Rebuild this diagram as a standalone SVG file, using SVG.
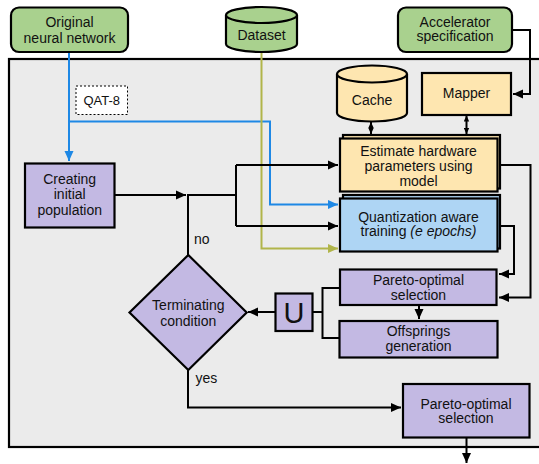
<svg xmlns="http://www.w3.org/2000/svg" width="539" height="464" viewBox="0 0 539 464">
<defs>
<marker id="ak" markerUnits="userSpaceOnUse" markerWidth="10" markerHeight="10" viewBox="0 0 10 10" refX="10" refY="5" orient="auto-start-reverse"><path d="M0,0.5 L10,5 L0,9.5 Z" fill="#000"/></marker>
<marker id="as" markerUnits="userSpaceOnUse" markerWidth="6" markerHeight="6" viewBox="0 0 10 10" refX="10" refY="5" orient="auto-start-reverse"><path d="M0,0.5 L10,5 L0,9.5 Z" fill="#000"/></marker>
<marker id="ab" markerUnits="userSpaceOnUse" markerWidth="10" markerHeight="10" viewBox="0 0 10 10" refX="10" refY="5" orient="auto"><path d="M0,0.5 L10,5 L0,9.5 Z" fill="#1e88e5"/></marker>
<marker id="ao" markerUnits="userSpaceOnUse" markerWidth="10" markerHeight="10" viewBox="0 0 10 10" refX="10" refY="5" orient="auto"><path d="M0,0.5 L10,5 L0,9.5 Z" fill="#b1b54a"/></marker>
</defs>
<style>
text{font-family:"Liberation Sans",Arial,sans-serif;font-size:14px;fill:#111;text-anchor:middle}
.b{stroke:#000;stroke-width:2.2}
.g{fill:#a9d18e}
.y{fill:#fee6b0}
.q{fill:#aed5f4}
.p{fill:#c3b9e3}
.c{fill:none;stroke:#000;stroke-width:2}
.cb{fill:none;stroke:#1e88e5;stroke-width:2}
.co{fill:none;stroke:#b1b54a;stroke-width:2}
</style>
<rect x="9" y="59" width="560" height="388" fill="#ebebeb" stroke="#000" stroke-width="2.2"/>
<g id="connectors">
<path class="cb" d="M69,52 V161" marker-end="url(#ab)"/>
<path class="cb" d="M69,121.5 H270 V204.5 H338" marker-end="url(#ab)"/>
<path class="co" d="M261.5,52 V248.5 H338" marker-end="url(#ao)"/>
<path class="c" d="M512,30 H530 V94 H513" marker-end="url(#ak)"/>
<path class="c" d="M371,122 V134" marker-start="url(#as)" marker-end="url(#as)"/>
<path class="c" d="M466.5,115.5 V134" marker-start="url(#as)" marker-end="url(#as)"/>
<path class="c" d="M114.5,195 H186" marker-end="url(#ak)"/>
<path class="c" d="M188,255 V195 H236"/>
<path class="c" d="M236,165 V226"/>
<path class="c" d="M236,165 H338" marker-end="url(#ak)"/>
<path class="c" d="M236,226 H338" marker-end="url(#ak)"/>
<path class="c" d="M497,165 H530.5 V297.5 H499" marker-end="url(#ak)"/>
<path class="c" d="M497,226 H514 V274 H499" marker-end="url(#ak)"/>
<path class="c" d="M419,305 V319" marker-end="url(#ak)"/>
<path class="c" d="M340,288 H322.5 V338 H340"/>
<path class="c" d="M312.5,312 H322.5"/>
<path class="c" d="M275.5,312 H248" marker-end="url(#ak)"/>
<path class="c" d="M188,370 V407.5 H401" marker-end="url(#ak)"/>
<path class="c" d="M466.5,437.5 V463" marker-end="url(#ak)"/>
</g>
<g id="original">
<rect class="b g" x="11" y="7.5" width="117" height="44.5" rx="8"/>
<text x="69.5" y="27">Original</text>
<text x="69.5" y="43">neural network</text>
</g>
<g id="dataset">
<path class="b g" d="M226,15 V44 A35.5,8 0 0 0 297,44 V15"/>
<ellipse class="b g" cx="261.5" cy="15" rx="35.5" ry="8"/>
<text x="261.5" y="40">Dataset</text>
</g>
<g id="accelerator">
<rect class="b g" x="398" y="7.5" width="114" height="44.5" rx="8"/>
<text x="455" y="26.5">Accelerator</text>
<text x="455" y="41">specification</text>
</g>
<g id="qat8">
<rect x="76" y="86" width="51.5" height="28.5" fill="#fff" stroke="#000" stroke-width="1" stroke-dasharray="2,2"/>
<text x="101.7" y="105" style="font-size:13px">QAT-8</text>
</g>
<g id="cache">
<path class="b y" d="M337,74 V113 A35,8.5 0 0 0 407,113 V74"/>
<ellipse class="b y" cx="372" cy="74" rx="35" ry="8.5"/>
<text x="372" y="105">Cache</text>
</g>
<g id="mapper">
<rect class="b y" x="422" y="73" width="89" height="42"/>
<text x="466.5" y="98">Mapper</text>
</g>
<g id="estimate">
<rect class="b y" x="343" y="135" width="157" height="53.5"/>
<rect class="b y" x="340" y="138.5" width="157.5" height="53"/>
<text x="418.5" y="155.5">Estimate hardware</text>
<text x="418.5" y="171">parameters using</text>
<text x="418.5" y="186">model</text>
</g>
<g id="qat">
<rect class="b q" x="343" y="195" width="157" height="53.5"/>
<rect class="b q" x="340" y="198.5" width="157.5" height="53"/>
<text x="418.5" y="221.5">Quantization aware</text>
<text x="418.5" y="236">training <tspan font-style="italic">(e epochs)</tspan></text>
</g>
<g id="pareto1">
<rect class="b p" x="340" y="269.5" width="156.5" height="35.5"/>
<text x="418.5" y="285">Pareto-optimal</text>
<text x="418.5" y="299.5">selection</text>
</g>
<g id="offsprings">
<rect class="b p" x="339.5" y="321" width="158" height="36.5"/>
<text x="418.5" y="336">Offsprings</text>
<text x="418.5" y="350.5">generation</text>
</g>
<g id="union">
<rect class="b p" x="275.5" y="293.5" width="37" height="37.5"/>
<text x="294" y="322.5" style="font-size:29px">U</text>
</g>
<g id="creating">
<rect class="b p" x="25" y="163.5" width="89.5" height="64"/>
<text x="69.7" y="184">Creating</text>
<text x="69.7" y="199">initial</text>
<text x="69.7" y="215">population</text>
</g>
<g id="terminating">
<path class="b p" d="M188.3,255 L246.7,312.5 L188.3,370 L129.5,312.5 Z"/>
<text x="188.3" y="310">Terminating</text>
<text x="188.3" y="325.5">condition</text>
</g>
<g id="pareto2">
<rect class="b p" x="403" y="384" width="126.5" height="53.5"/>
<text x="466" y="408.5">Pareto-optimal</text>
<text x="466" y="423">selection</text>
</g>
<text x="194" y="244" style="text-anchor:start">no</text>
<text x="195.5" y="383" style="text-anchor:start">yes</text>
</svg>
